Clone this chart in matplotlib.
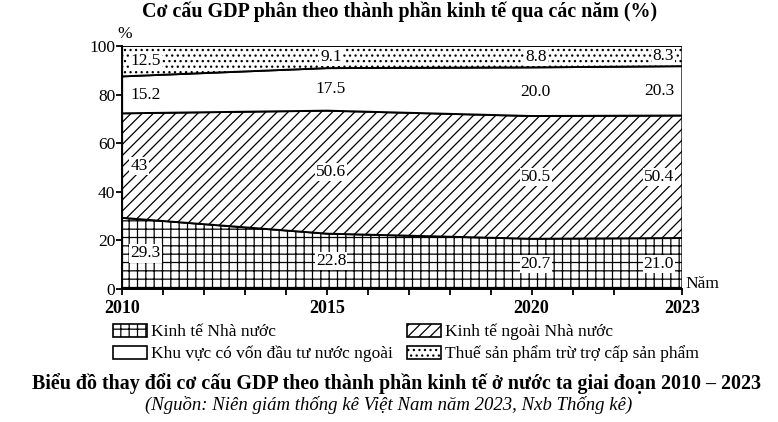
import numpy as np
import matplotlib
matplotlib.use('Agg')
import matplotlib.pyplot as plt
from matplotlib.patches import Patch

plt.rcParams['font.family'] = ['Liberation Serif', 'DejaVu Serif']
plt.rcParams['hatch.linewidth'] = 0.9

# --- data ---
years = [2010, 2015, 2020, 2023]
state = [29.3, 22.8, 20.7, 21.0]
non_state = [43, 50.6, 50.5, 50.4]
fdi = [15.2, 17.5, 20.0, 20.3]
tax = [12.5, 9.1, 8.8, 8.3]
series_names = ['Kinh tế Nhà nước', 'Kinh tế ngoài Nhà nước',
                'Khu vực có vốn đầu tư nước ngoài', 'Thuế sản phẩm trừ trợ cấp sản phẩm']
hatches = ['++', '///', '', '...']
minor_years = [2011, 2012, 2013, 2014, 2016, 2017, 2018, 2019, 2021, 2022]

# the original axis is not to scale: the last year (2022 -> 2023) is stretched
_src = [2010, 2022, 2023]
_dst = [2010, 2022, 2023.68]
def fwd(x):
    return np.interp(x, _src, _dst)
def inv(x):
    return np.interp(x, _dst, _src)

fig = plt.figure(figsize=(7.78, 4.22), dpi=100)
ax = fig.add_axes([0.157, 0.315, 0.720, 0.576])
ax.set_xscale('function', functions=(fwd, inv))

series = [state, non_state, fdi, tax]
bottom = np.zeros(len(years))
for vals, h in zip(series, hatches):
    top = bottom + np.array(vals)
    ax.fill_between(years, bottom, top, facecolor='white', edgecolor='black',
                    hatch=h, linewidth=1.4)
    # value labels in the middle of each band
    for i, (x, v) in enumerate(zip(years, vals)):
        ymid = (bottom[i] + top[i]) / 2
        if i == 0:
            xp, ha = x + 0.2, 'left'
        elif i == len(years) - 1:
            xp, ha = x - 0.12, 'right'
        else:
            xp, ha = x + 0.1, 'center'
        txt = '43' if v == 43 else f'{v:.1f}'
        ax.text(xp, ymid, txt, ha=ha, va='center', fontsize=12.5,
                bbox=dict(facecolor='white', edgecolor='none', pad=0.8))
    bottom = top

ax.set_xlim(2010, 2023)
ax.set_ylim(0, 100)
ax.set_xticks(years)
ax.set_xticks(minor_years, minor=True)
ax.set_yticks(range(0, 101, 20))
ax.tick_params(axis='x', which='both', direction='out', length=4, width=1.3,
               labelsize=13, pad=4)
ax.tick_params(axis='y', direction='out', length=4, width=1.3, labelsize=12.5, pad=1)
for lab in ax.get_xticklabels():
    lab.set_fontweight('bold')
ax.spines['top'].set_visible(False)
ax.spines['right'].set_visible(False)
ax.spines['left'].set_linewidth(1.4)
ax.spines['bottom'].set_linewidth(1.4)

ax.text(-0.008, 1.015, '%', transform=ax.transAxes, fontsize=12.5, ha='left', va='bottom')
ax.text(1.006, -0.01, 'Năm', transform=ax.transAxes, fontsize=12.5, ha='left', va='bottom')

fig.text(0.513, 0.971, 'Cơ cấu GDP phân theo thành phần kinh tế qua các năm (%)',
         ha='center', va='center', fontsize=14.4, fontweight='bold')

handles = [Patch(facecolor='white', edgecolor='black', hatch=h, linewidth=1.2)
           for h in hatches]
order = [0, 2, 1, 3]
fig.legend([handles[i] for i in order], [series_names[i] for i in order],
           ncol=2, loc='center', bbox_to_anchor=(0.522, 0.187), frameon=False,
           fontsize=12.5, handlelength=1.95, handleheight=0.8, columnspacing=0.8,
           handletextpad=0.25, labelspacing=0.3, borderpad=0.2)

fig.text(0.51, 0.092, 'Biểu đồ thay đổi cơ cấu GDP theo thành phần kinh tế ở nước ta giai đoạn 2010 – 2023',
         ha='center', va='center', fontsize=14.4, fontweight='bold')
fig.text(0.5, 0.040, '(Nguồn: Niên giám thống kê Việt Nam năm 2023, Nxb Thống kê)',
         ha='center', va='center', fontsize=13.5, style='italic')

fig.savefig('out.png', dpi=100)
